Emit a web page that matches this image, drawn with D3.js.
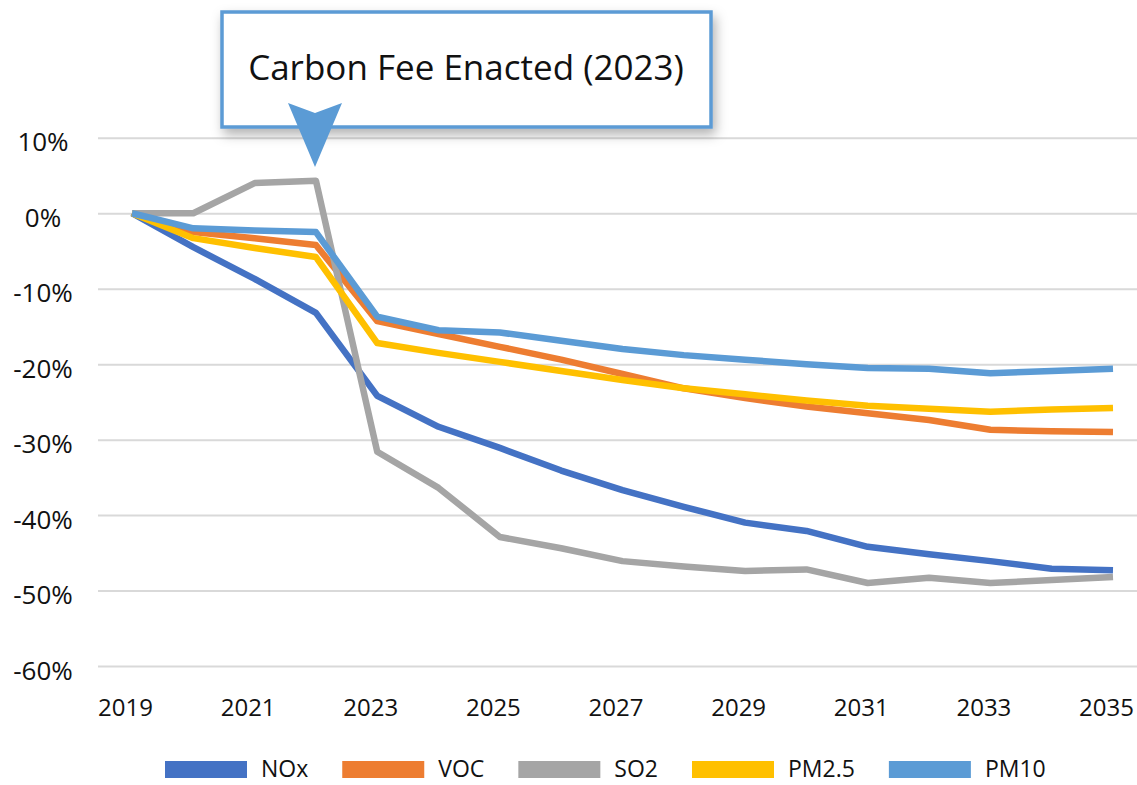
<!DOCTYPE html>
<html>
<head>
<meta charset="utf-8">
<script src="https://cdn.jsdelivr.net/npm/d3@7/dist/d3.min.js"></script>
<style>
  body { margin: 0; background: #fff; }
  text { font-family: "Open Sans", "Noto Sans", sans-serif; fill: #111; }
</style>
</head>
<body>
<div id="chart"></div>
<script>
// chart data (percent change vs 2019)
var years = [2019, 2020, 2021, 2022, 2023, 2024, 2025, 2026, 2027, 2028, 2029, 2030, 2031, 2032, 2033, 2034, 2035];
var noxValues  = [0, -4.5, -8.7, -13.2, -24.2, -28.3, -31.1, -34.1, -36.7, -38.9, -41.0, -42.1, -44.2, -45.2, -46.1, -47.1, -47.3];
var vocValues  = [0, -2.5, -3.3, -4.2, -14.3, -16.0, -17.7, -19.4, -21.3, -23.2, -24.5, -25.6, -26.5, -27.4, -28.7, -28.9, -29.0];
var so2Values  = [0, 0, 4.0, 4.3, -31.6, -36.4, -42.9, -44.4, -46.1, -46.8, -47.4, -47.2, -49.0, -48.3, -49.0, -48.6, -48.2];
var pm25Values = [0, -3.3, -4.6, -5.8, -17.2, -18.5, -19.7, -20.9, -22.1, -23.2, -24.0, -24.8, -25.5, -25.9, -26.3, -26.0, -25.8];
var pm10Values = [0, -2.0, -2.3, -2.5, -13.7, -15.5, -15.8, -16.9, -18.0, -18.8, -19.4, -20.0, -20.5, -20.6, -21.2, -20.9, -20.6];

var seriesNames = ["NOx", "VOC", "SO2", "PM2.5", "PM10"];
var seriesColors = ["#4472C4", "#ED7D31", "#A5A5A5", "#FFC000", "#5B9BD5"];
var yTicks = [10, 0, -10, -20, -30, -40, -50, -60];
var xTickYears = [2019, 2021, 2023, 2025, 2027, 2029, 2031, 2033, 2035];
var calloutText = "Carbon Fee Enacted (2023)";

var seriesValues = [noxValues, vocValues, so2Values, pm25Values, pm10Values];
var series = seriesNames.map(function(name, i) {
  return {
    name: name,
    color: seriesColors[i],
    points: years.map(function(yr, j) { return { year: yr, value: seriesValues[i][j] }; })
  };
});

var width = 1137, height = 785;
var gridLeft = 98, gridRight = 1137;

var svg = d3.select("#chart")
  .append("svg")
  .attr("width", width)
  .attr("height", height);

var x = d3.scaleLinear()
  .domain([2019, 2035])
  .range([132, 1113]);

var y = d3.scaleLinear()
  .domain([-60, 10])
  .range([666, 137.8]);

// gridlines + y labels
var yAxis = svg.append("g")
  .attr("transform", "translate(" + gridLeft + ",0)")
  .call(d3.axisLeft(y)
    .tickValues(yTicks)
    .tickSize(-(gridRight - gridLeft))
    .tickFormat(function(d) { return d + "%"; }));

yAxis.select(".domain").remove();
yAxis.selectAll(".tick line")
  .attr("stroke", "#d9d9d9")
  .attr("stroke-width", 2);
yAxis.selectAll(".tick text")
  .attr("x", 43 - gridLeft)
  .attr("dy", "0.5em")
  .attr("text-anchor", "middle")
  .style("font-size", "26px")
  .style("font-family", "'Open Sans', sans-serif")
  .attr("fill", "#111");

// x labels
var xAxis = svg.append("g")
  .attr("transform", "translate(0," + y(-60) + ")")
  .call(d3.axisBottom(x)
    .tickValues(xTickYears)
    .tickSize(0)
    .tickPadding(33)
    .tickFormat(d3.format("d")));

xAxis.select(".domain").remove();
xAxis.selectAll(".tick text")
  .attr("dx", -7)
  .style("font-size", "24px")
  .style("font-family", "'Open Sans', sans-serif")
  .attr("fill", "#111");

// lines
var line = d3.line()
  .x(function(d) { return x(d.year); })
  .y(function(d) { return y(d.value); });

svg.selectAll(".series")
  .data(series)
  .enter().append("path")
  .attr("class", "series")
  .attr("d", function(d) { return line(d.points); })
  .attr("fill", "none")
  .attr("stroke", function(d) { return d.color; })
  .attr("stroke-width", 6.5)
  .attr("stroke-linejoin", "round");

// callout box with shadow
var defs = svg.append("defs");
var shadow = defs.append("filter")
  .attr("id", "shadow")
  .attr("x", "-20%").attr("y", "-30%")
  .attr("width", "140%").attr("height", "170%");
shadow.append("feDropShadow")
  .attr("dx", 3).attr("dy", 6)
  .attr("stdDeviation", 6)
  .attr("flood-color", "#000")
  .attr("flood-opacity", 0.3);

var callout = svg.append("g");
callout.append("rect")
  .attr("x", 222).attr("y", 12)
  .attr("width", 489).attr("height", 115)
  .attr("fill", "#fff")
  .attr("stroke", "#5B9BD5")
  .attr("stroke-width", 3.5)
  .attr("filter", "url(#shadow)");

callout.append("text")
  .attr("x", 466).attr("y", 80)
  .attr("text-anchor", "middle")
  .style("font-size", "35px")
  .text(calloutText);

// arrow head pointing at 2022/2023 step
var tipX = 315;
callout.append("path")
  .attr("d", "M" + (tipX - 27) + ",103 L" + tipX + ",113 L" + (tipX + 27) + ",103 L" + tipX + ",167 Z")
  .attr("fill", "#5B9BD5");

// legend
var legendX = 165;
series.forEach(function(s) {
  svg.append("rect")
    .attr("x", legendX)
    .attr("y", 761)
    .attr("width", 82)
    .attr("height", 17)
    .attr("fill", s.color);
  var label = svg.append("text")
    .attr("x", legendX + 96)
    .attr("y", 777)
    .style("font-size", "23px")
    .text(s.name);
  legendX += 96 + label.node().getComputedTextLength() + 34;
});
</script>
</body>
</html>
